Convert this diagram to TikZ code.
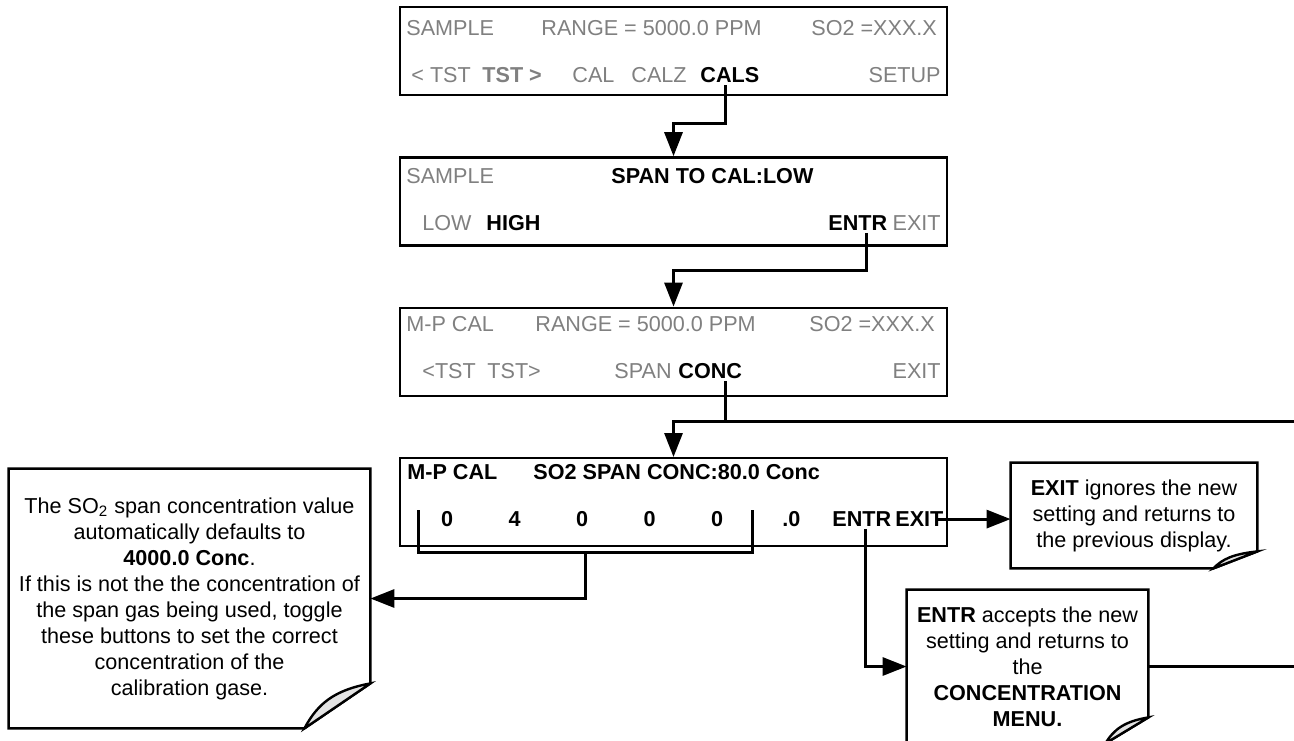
\documentclass[tikz,border=0pt]{standalone}
\usepackage{fontspec}
\setmainfont{Liberation Sans}
\usetikzlibrary{arrows.meta,positioning}
\definecolor{lcdgris}{HTML}{808080}
\definecolor{foldgris}{HTML}{E3E3E3}
\newcommand{\lcd}{\fontsize{10.8}{13}\selectfont}
% note outline with folded corner: #1 node, #2 fold width, #3 fold height
\newcommand{\notebox}[3]{%
  \draw[noteline] (#1.north west) -- (#1.north east) -- ([yshift=#3]#1.south east)
    -- ([xshift=-#2]#1.south east) -- (#1.south west) -- cycle;
  \draw[noteline,fill=foldgris] ([yshift=#3]#1.south east)
    .. controls ([xshift=-0.55*#2,yshift=0.85*#3]#1.south east) and ([xshift=-0.8*#2,yshift=0.55*#3]#1.south east)
    .. ([xshift=-#2]#1.south east) -- cycle;}

\begin{document}
\begin{tikzpicture}[x=0.5pt,y=-0.5pt,
  scrbox/.style={draw,line width=1.2pt,minimum width=273.5pt,minimum height=44pt,inner sep=0pt},
  lbl/.style={font=\lcd,text=lcdgris,inner sep=1pt,anchor=base west},
  lblb/.style={lbl,font=\lcd\bfseries},
  sel/.style={lblb,text=black},
  note/.style={font=\lcd,align=center,inner sep=0pt},
  noteline/.style={line width=1.2pt},
  wire/.style={line width=1.5pt},
  arr/.style={wire,-{Triangle[length=12pt,width=9pt]}}]
  \useasboundingbox[fill=white] (0,0) rectangle (1294,740);
  % ecrans
  \node[scrbox] (scr1) at (673.5,51) {};
  \node[scrbox,below=30pt of scr1] (scr2) {};
  \node[scrbox,below=30pt of scr2] (scr3) {};
  \node[scrbox,below=30pt of scr3] (scr4) {};
  % ecran 1
  \node[lbl] (smp1) at (404,35.5) {SAMPLE};
  \node[lbl] (rng1) at (539,35.5) {RANGE = 5000.0 PPM};
  \node[lbl] (so1) at (809,35.5) {SO2 =XXX.X};
  \node[lbl] (tstl1) at (409,82.5) {< TST};
  \node[lblb] (tstr1) at (480,82.5) {TST >};
  \node[lbl] (cal1) at (570,82.5) {CAL};
  \node[lbl] (calz1) at (629,82.5) {CALZ};
  \node[sel] (cals) at (698,82.5) {CALS};
  \node[lbl,anchor=base east] (setup1) at (943,82.5) {SETUP};
  % ecran 2
  \node[lbl] (smp2) at (404,183.5) {SAMPLE};
  \node[sel] (spancal) at (609,183.5) {SPAN TO CAL:LOW};
  \node[lbl] (low2) at (420,230.5) {LOW};
  \node[sel] (high2) at (484,230.5) {HIGH};
  \node[sel] (entr2) at (826,230.5) {ENTR};
  \node[lbl,anchor=base east] (exit2) at (943,230.5) {EXIT};
  % ecran 3
  \node[lbl] (mpc3) at (404,331.5) {M-P CAL};
  \node[lbl] (rng3) at (533,331.5) {RANGE = 5000.0 PPM};
  \node[lbl] (so3) at (807,331.5) {SO2 =XXX.X};
  \node[lbl] (tstl3) at (420,378.5) {<TST};
  \node[lbl] (tstr3) at (485,378.5) {TST>};
  \node[lbl] (span3) at (612,378.5) {SPAN};
  \node[sel] (conc) at (676,378.5) {CONC};
  \node[lbl,anchor=base east] (exit3) at (943,378.5) {EXIT};
  % ecran 4
  \node[sel] (mpc4) at (405,479.5) {M-P CAL};
  \node[sel] (conc4) at (531,479.5) {SO2 SPAN CONC:80.0 Conc};
  \node[sel,anchor=base] (d1) at (447,526.5) {0};
  \node[sel,anchor=base] (d2) at (514.5,526.5) {4};
  \node[sel,anchor=base] (d3) at (582,526.5) {0};
  \node[sel,anchor=base] (d4) at (649.5,526.5) {0};
  \node[sel,anchor=base] (d5) at (717,526.5) {0};
  \node[sel] (dec4) at (780,526.5) {.0};
  \node[sel] (entrB) at (830,526.5) {ENTR};
  \node[sel] (exitB) at (893,526.5) {EXIT};
  % notes
  \node[note,minimum width=180.5pt,minimum height=129.5pt] (defnote) at (189.5,598.5)
    {The SO\textsubscript{2} span concentration value\\automatically defaults to\\\textbf{4000.0 Conc}.\\
     If this is not the the concentration of\\the span gas being used, toggle\\these buttons to set the correct\\
     concentration of the\\calibration gase.};
  \node[note,minimum width=123pt,minimum height=52.5pt] (exitnote) at (1134,515.5)
    {\textbf{EXIT} ignores the new\\setting and returns to\\the previous display.};
  \node[note,minimum width=120.5pt,minimum height=76.5pt] (entrnote) at (1027.5,666.5)
    {\textbf{ENTR} accepts the new\\setting and returns to\\the\\\textbf{CONCENTRATION}\\\textbf{MENU.}};
  \notebox{defnote}{33pt}{22.5pt}
  \notebox{exitnote}{22pt}{8.5pt}
  \notebox{entrnote}{21.5pt}{13pt}
  % fleches entre ecrans
  \draw[arr] ([xshift=13.5pt]cals.south west) -- ++(0,38) -| (scr2.north);
  \draw[arr] ([xshift=20pt]entr2.south west) -- ++(0,38) -| (scr3.north);
  \draw[arr] ([xshift=24.5pt]conc.south west) -- ++(0,40) coordinate (junc) -| (scr4.north);
  % retour vers le menu concentration (sort du cadre a droite)
  \draw[wire] (entrnote.east) -- ++(160,0) |- (junc);
  % accolade sous les chiffres
  \coordinate (brL) at (418,510);
  \coordinate (brR) at (752,510);
  \coordinate (brB) at (585,552);
  \draw[wire] (brL) |- (brB) -| (brR);
  \draw[arr] (brB) |- (defnote.east);
  % ENTR / EXIT
  \draw[arr] ([xshift=-4pt]exitB.east) -- (exitB.east -| exitnote.west);
  \draw[arr] ([xshift=17.5pt]entrB.south west) |- (entrnote.west);
\end{tikzpicture}
\end{document}
